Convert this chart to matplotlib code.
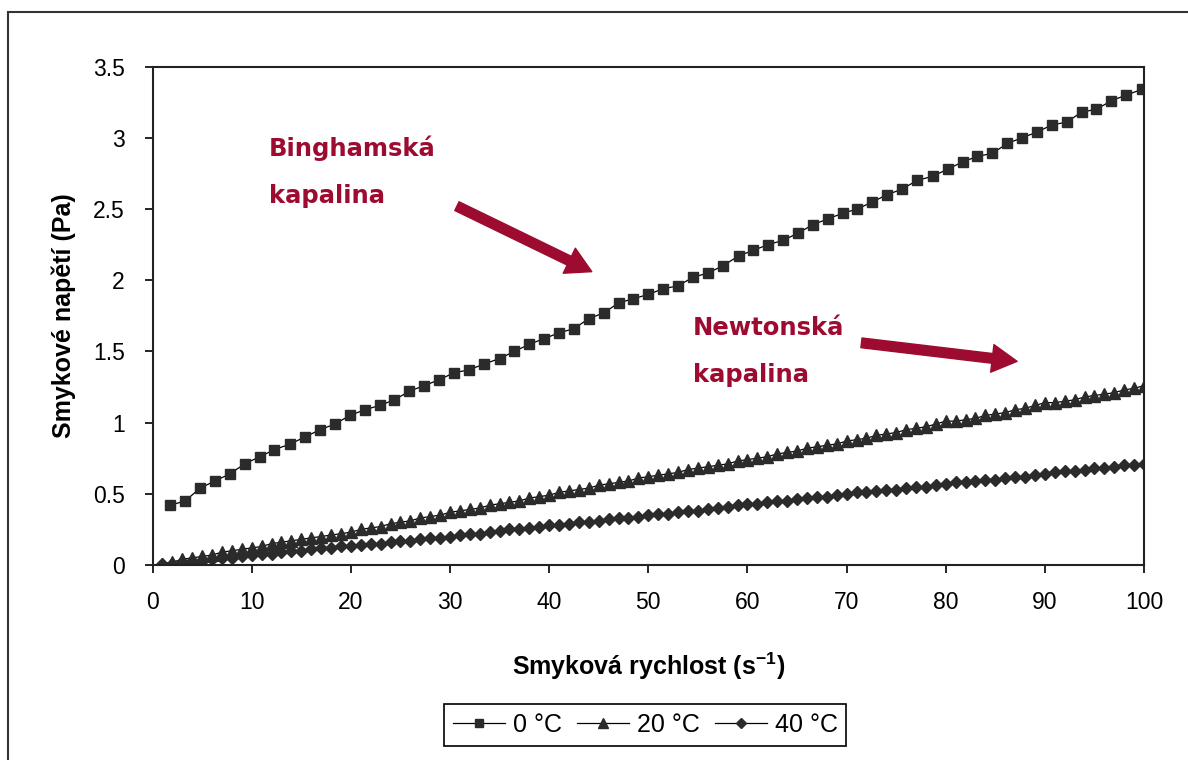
import matplotlib
matplotlib.use("Agg")
import matplotlib.pyplot as plt
from matplotlib.patches import Rectangle

plt.rcParams['font.family'] = ['Liberation Sans', 'DejaVu Sans']
plt.rcParams['mathtext.default'] = 'regular'

# 0 °C - Binghamska kapalina
x_0 = [1.8, 3.3, 4.8, 6.3, 7.8, 9.3, 10.8, 12.3, 13.9, 15.4,
       16.9, 18.4, 19.9, 21.4, 22.9, 24.4, 25.9, 27.4, 28.9, 30.4,
       31.9, 33.4, 35.0, 36.5, 38.0, 39.5, 41.0, 42.5, 44.0, 45.5,
       47.0, 48.5, 50.0, 51.5, 53.0, 54.5, 56.0, 57.5, 59.1, 60.6,
       62.1, 63.6, 65.1, 66.6, 68.1, 69.6, 71.1, 72.6, 74.1, 75.6,
       77.1, 78.7, 80.2, 81.7, 83.2, 84.7, 86.2, 87.7, 89.2, 90.7,
       92.2, 93.7, 95.2, 96.7, 98.2, 99.8]
y_0 = [0.42, 0.45, 0.54, 0.59, 0.64, 0.71, 0.76, 0.81, 0.85, 0.90,
       0.95, 0.99, 1.05, 1.09, 1.12, 1.16, 1.22, 1.26, 1.30, 1.35,
       1.37, 1.41, 1.45, 1.50, 1.55, 1.59, 1.63, 1.66, 1.73, 1.77,
       1.84, 1.87, 1.90, 1.94, 1.96, 2.02, 2.05, 2.10, 2.17, 2.21,
       2.25, 2.28, 2.33, 2.39, 2.43, 2.47, 2.50, 2.55, 2.60, 2.64,
       2.70, 2.73, 2.78, 2.83, 2.87, 2.89, 2.96, 3.00, 3.04, 3.09,
       3.11, 3.18, 3.20, 3.26, 3.30, 3.34]

# 20 °C a 40 °C - Newtonska kapalina
x_20_40 = [1, 2, 3, 4, 5, 6, 7, 8, 9, 10,
           11, 12, 13, 14, 15, 16, 17, 18, 19, 20,
           21, 22, 23, 24, 25, 26, 27, 28, 29, 30,
           31, 32, 33, 34, 35, 36, 37, 38, 39, 40,
           41, 42, 43, 44, 45, 46, 47, 48, 49, 50,
           51, 52, 53, 54, 55, 56, 57, 58, 59, 60,
           61, 62, 63, 64, 65, 66, 67, 68, 69, 70,
           71, 72, 73, 74, 75, 76, 77, 78, 79, 80,
           81, 82, 83, 84, 85, 86, 87, 88, 89, 90,
           91, 92, 93, 94, 95, 96, 97, 98, 99, 100]
y_20 = [0.01, 0.02, 0.04, 0.05, 0.06, 0.07, 0.09, 0.10, 0.11, 0.12,
        0.13, 0.15, 0.16, 0.17, 0.18, 0.19, 0.20, 0.21, 0.22, 0.23,
        0.25, 0.26, 0.27, 0.29, 0.30, 0.31, 0.33, 0.34, 0.35, 0.37,
        0.38, 0.39, 0.40, 0.42, 0.43, 0.44, 0.45, 0.47, 0.48, 0.49,
        0.51, 0.52, 0.53, 0.54, 0.56, 0.57, 0.58, 0.59, 0.61, 0.62,
        0.63, 0.64, 0.65, 0.67, 0.68, 0.69, 0.70, 0.71, 0.73, 0.74,
        0.75, 0.76, 0.78, 0.79, 0.80, 0.82, 0.83, 0.84, 0.85, 0.87,
        0.88, 0.89, 0.91, 0.92, 0.93, 0.95, 0.96, 0.97, 0.99, 1.01,
        1.01, 1.02, 1.03, 1.05, 1.06, 1.07, 1.09, 1.10, 1.12, 1.14,
        1.14, 1.15, 1.16, 1.18, 1.19, 1.20, 1.21, 1.23, 1.24, 1.26]
y_40 = [0.01, 0.01, 0.02, 0.03, 0.03, 0.04, 0.05, 0.05, 0.06, 0.07,
        0.08, 0.08, 0.09, 0.10, 0.10, 0.11, 0.12, 0.12, 0.13, 0.13,
        0.14, 0.15, 0.15, 0.16, 0.17, 0.17, 0.18, 0.19, 0.19, 0.20,
        0.21, 0.22, 0.22, 0.23, 0.24, 0.25, 0.25, 0.26, 0.27, 0.28,
        0.28, 0.29, 0.30, 0.30, 0.31, 0.32, 0.33, 0.33, 0.34, 0.35,
        0.36, 0.36, 0.37, 0.38, 0.38, 0.39, 0.40, 0.41, 0.42, 0.43,
        0.43, 0.44, 0.45, 0.45, 0.46, 0.47, 0.48, 0.48, 0.49, 0.50,
        0.51, 0.51, 0.52, 0.53, 0.53, 0.54, 0.55, 0.55, 0.56, 0.57,
        0.58, 0.58, 0.59, 0.60, 0.60, 0.61, 0.62, 0.62, 0.63, 0.64,
        0.65, 0.66, 0.66, 0.67, 0.68, 0.68, 0.69, 0.70, 0.70, 0.71]

cervena = '#9e0b30'
seda = '#2b2b2b'

fig = plt.figure(figsize=(11.88, 7.6), dpi=100)
ax = fig.add_axes([0.1284, 0.2566, 0.8346, 0.6558])

# ramecek kolem celeho grafu (vpravo a dole oriznuty)
fig.patches.append(Rectangle((8 / 1188, -0.05), 1.1, 1 - 12 / 760 + 0.05,
                             transform=fig.transFigure, fill=False,
                             edgecolor='#333333', linewidth=1.5))

ax.plot(x_0, y_0, color='black', linewidth=0.9, marker='s', markersize=7.5,
        markerfacecolor=seda, markeredgecolor=seda, label='0 °C')
ax.plot(x_20_40, y_20, color='black', linewidth=0.9, marker='^', markersize=9,
        markerfacecolor=seda, markeredgecolor=seda, label='20 °C')
ax.plot(x_20_40, y_40, color='black', linewidth=0.9, marker='D', markersize=6.5,
        markerfacecolor=seda, markeredgecolor=seda, label='40 °C')

ax.set_xlim(0, 100)
ax.set_ylim(0, 3.5)
ax.set_xticks(range(0, 101, 10))
ax.set_yticks([0, 0.5, 1, 1.5, 2, 2.5, 3, 3.5])
ax.set_yticklabels(['0', '0.5', '1', '1.5', '2', '2.5', '3', '3.5'])
ax.tick_params(direction='out', length=6, width=1.2, labelsize=16.5,
               colors='black')
ax.tick_params(axis='y', pad=14)
ax.tick_params(axis='x', pad=13)
for s in ax.spines.values():
    s.set_linewidth(1.5)
    s.set_color('#222222')

ax.set_xlabel('Smyková rychlost (s$^{-1}$)', fontsize=18, fontweight='bold',
              labelpad=26)
ax.set_ylabel('Smykové napětí (Pa)', fontsize=18, fontweight='bold',
              labelpad=12)

ax.text(11.7, 2.76, 'Binghamská\nkapalina', color=cervena, fontsize=17.5,
        fontweight='bold', family='DejaVu Sans', ha='left', va='center',
        linespacing=2.2)
ax.text(54.5, 1.50, 'Newtonská\nkapalina', color=cervena, fontsize=17.5,
        fontweight='bold', family='DejaVu Sans', ha='left', va='center',
        linespacing=2.2)

styl = 'simple,head_length=18,head_width=20,tail_width=7'
ax.annotate('', xy=(44.3, 2.06), xytext=(30.7, 2.52),
            arrowprops=dict(arrowstyle=styl, mutation_scale=1, color=cervena,
                            shrinkA=0, shrinkB=0))
ax.annotate('', xy=(87.2, 1.43), xytext=(71.5, 1.56),
            arrowprops=dict(arrowstyle=styl, mutation_scale=1, color=cervena,
                            shrinkA=0, shrinkB=0))

leg = ax.legend(loc='center', bbox_to_anchor=(0.543, 0.046),
                bbox_transform=fig.transFigure, ncol=3, fontsize=18,
                frameon=True, fancybox=False, edgecolor='black',
                framealpha=1, markerscale=0.75, handlelength=2.1,
                handletextpad=0.3, columnspacing=0.6, borderpad=0.35)
leg.get_frame().set_linewidth(1.2)

fig.savefig('out.png', dpi=100)
